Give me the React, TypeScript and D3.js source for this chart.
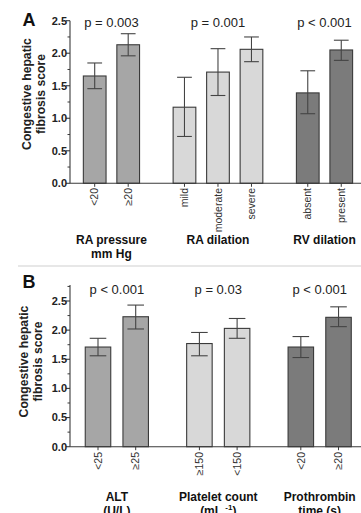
import * as d3 from "d3";

const FONT = "'Liberation Sans', Arial, sans-serif";

// Panel A
const catsA = ["<20", "≥20", "mild", "moderate", "severe", "absent", "present"];
const groupOfA = [0, 0, 1, 1, 1, 2, 2];
const meanA = [1.65, 2.13, 1.17, 1.71, 2.06, 1.39, 2.05];
const lowA = [1.455, 1.96, 0.72, 1.35, 1.87, 1.07, 1.89];
const highA = [1.85, 2.3, 1.63, 2.07, 2.25, 1.73, 2.2];
const pA = ["p = 0.003", "p = 0.001", "p < 0.001"];
const groupsA = [["RA pressure", "mm Hg"], ["RA dilation"], ["RV dilation"]];

// Panel B
const catsB = ["<25", "≥25", "≥150", "<150", "<20", "≥20"];
const groupOfB = [0, 0, 1, 1, 2, 2];
const meanB = [1.71, 2.23, 1.77, 2.03, 1.71, 2.22];
const lowB = [1.56, 2.02, 1.56, 1.86, 1.53, 2.06];
const highB = [1.86, 2.43, 1.96, 2.2, 1.89, 2.4];
const pB = ["p < 0.001", "p = 0.03", "p < 0.001"];
const groupsB = [["ALT", "(U/L)"], ["Platelet count", "(mL|-1|)"], ["Prothrombin", "time (s)"]];

const yTicks = [0, 0.5, 1.0, 1.5, 2.0, 2.5];
const groupFill = ["#a6a6a6", "#d8d8d8", "#7b7b7b"];

type PanelProps = {
  letter: string;
  cats: string[];
  groupOf: number[];
  mean: number[];
  low: number[];
  high: number[];
  pLabels: string[];
  groups: string[][];
  y0: number;
  y25: number;
  axisTop: number;
  maxMinor: number;
  x0: number;
  step: number;
  gap: number;
  barW: number;
  letterY: number;
  pY: number;
  tickY: number;
  groupY: number;
  titleX: [number, number];
  titleY: number;
};

const Panel = (p: PanelProps) => {
  const y = d3.scaleLinear().domain([0, 2.5]).range([p.y0, p.y25]);
  const slot = p.cats.map((_, i) => i + p.groupOf[i] * p.gap);
  const last = slot[slot.length - 1];
  const x = d3.scaleLinear().domain([0, last]).range([p.x0, p.x0 + last * p.step]);
  const axisX = 70;
  const minor = d3.range(0.25, p.maxMinor + 0.001, 0.5);
  const groupIdx = d3.range(p.pLabels.length);
  const groupCenter = (g: number) =>
    d3.mean(slot.filter((_, i) => p.groupOf[i] === g).map((s) => x(s))) as number;
  const capW = p.barW * 0.65;
  const stroke = "#3a3a3a";

  return (
    <g fontFamily={FONT}>
      <text x={22.5} y={p.letterY} fontSize={18} fontWeight="bold" fill="#111">
        {p.letter}
      </text>
      {/* y title */}
      {["Congestive hepatic", "fibrosis score"].map((t, i) => (
        <text
          key={t}
          transform={`translate(${p.titleX[i]},${p.titleY}) rotate(-90)`}
          textAnchor="middle"
          dy="0.35em"
          fontSize={12.2}
          fontWeight="bold"
          fill="#222"
        >
          {t}
        </text>
      ))}
      {/* bars */}
      {p.cats.map((c, i) => (
        <rect
          key={"b" + i}
          x={x(slot[i]) - p.barW / 2}
          y={y(p.mean[i])}
          width={p.barW}
          height={p.y0 - y(p.mean[i])}
          fill={groupFill[p.groupOf[i]]}
          stroke={stroke}
          strokeWidth={1.1}
        />
      ))}
      {/* error bars */}
      {p.cats.map((c, i) => {
        const cx = x(slot[i]);
        return (
          <g key={"e" + i} stroke="#444" strokeWidth={1.1}>
            <line x1={cx} x2={cx} y1={y(p.low[i])} y2={y(p.high[i])} />
            <line x1={cx - capW / 2} x2={cx + capW / 2} y1={y(p.high[i])} y2={y(p.high[i])} />
            <line x1={cx - capW / 2} x2={cx + capW / 2} y1={y(p.low[i])} y2={y(p.low[i])} />
          </g>
        );
      })}
      {/* y axis */}
      <line x1={axisX} x2={axisX} y1={p.axisTop} y2={p.y0} stroke={stroke} strokeWidth={1.1} />
      {yTicks.map((t) => (
        <g key={"t" + t}>
          <line x1={axisX - 4} x2={axisX} y1={y(t)} y2={y(t)} stroke={stroke} strokeWidth={1.1} />
          <text
            x={axisX - 3}
            y={y(t)}
            dy="0.35em"
            textAnchor="end"
            fontSize={11}
            fontWeight="bold"
            fill="#222"
          >
            {t.toFixed(1)}
          </text>
        </g>
      ))}
      {minor.map((t) => (
        <line key={"m" + t} x1={axisX - 2.5} x2={axisX} y1={y(t)} y2={y(t)} stroke={stroke} strokeWidth={1} />
      ))}
      {/* x axis */}
      <line x1={axisX} x2={361} y1={p.y0} y2={p.y0} stroke={stroke} strokeWidth={1.1} />
      {p.cats.map((c, i) => (
        <g key={"x" + i}>
          <line x1={x(slot[i])} x2={x(slot[i])} y1={p.y0} y2={p.y0 + 3.5} stroke={stroke} strokeWidth={1} />
          <text
            transform={`translate(${x(slot[i])},${p.tickY}) rotate(-90)`}
            textAnchor="end"
            dy="0.35em"
            fontSize={10.5}
            fill="#333"
          >
            {c}
          </text>
        </g>
      ))}
      {/* p values */}
      {groupIdx.map((g) => (
        <text key={"p" + g} x={groupCenter(g)} y={p.pY} textAnchor="middle" fontSize={13} fill="#222">
          {p.pLabels[g]}
        </text>
      ))}
      {/* group labels */}
      {groupIdx.map((g) =>
        p.groups[g].map((line, li) => {
          const parts = line.split("|");
          return (
            <text
              key={"g" + g + li}
              x={groupCenter(g)}
              y={p.groupY + li * 14}
              textAnchor="middle"
              fontSize={12}
              fontWeight="bold"
              fill="#111"
            >
              {parts.length === 3 ? (
                <>
                  {parts[0] + " "}
                  <tspan fontSize={8} dy={-5}>
                    {parts[1]}
                  </tspan>
                  <tspan dy={5}>{parts[2]}</tspan>
                </>
              ) : (
                line
              )}
            </text>
          );
        })
      )}
    </g>
  );
};

export default function App() {
  return (
    <svg
      width={361}
      height={513}
      style={{ position: "absolute", left: 0, top: 0, background: "#fff" }}
    >
      <rect width={361} height={513} fill="#fff" />
      <Panel
        letter="A"
        cats={catsA}
        groupOf={groupOfA}
        mean={meanA}
        low={lowA}
        high={highA}
        pLabels={pA}
        groups={groupsA}
        y0={183.3}
        y25={20.7}
        axisTop={20.7}
        maxMinor={2.25}
        x0={94.7}
        step={33.5}
        gap={0.68}
        barW={22.7}
        letterY={26}
        pY={26.6}
        tickY={188}
        groupY={244}
        titleX={[27, 41]}
        titleY={94}
      />
      <line x1={18} x2={361} y1={266} y2={266} stroke="#cfcfcf" strokeWidth={1} />
      <Panel
        letter="B"
        cats={catsB}
        groupOf={groupOfB}
        mean={meanB}
        low={lowB}
        high={highB}
        pLabels={pB}
        groups={groupsB}
        y0={446.7}
        y25={301}
        axisTop={285}
        maxMinor={2.75}
        x0={98}
        step={37.7}
        gap={0.69}
        barW={25.5}
        letterY={288}
        pY={293.5}
        tickY={452}
        groupY={501}
        titleX={[23.5, 37.5]}
        titleY={361.5}
      />
    </svg>
  );
}
